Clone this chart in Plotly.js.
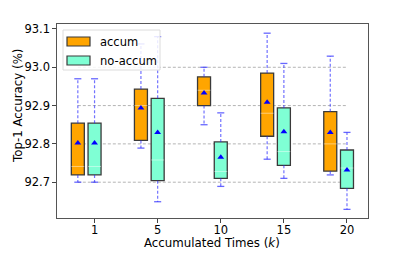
<!DOCTYPE html>
<html>
<head>
<meta charset="utf-8">
<script src="https://cdn.plot.ly/plotly-3.0.1.min.js"></script>
<style>html,body{margin:0;padding:0;background:#fff;}#chart{width:409px;height:273px;}</style>
</head>
<body>
<div id="chart"></div>
<script>
// ---- data ----
const categories = ['1', '5', '10', '15', '20'];
const accumQ1   = [92.719, 92.809, 92.900, 92.820, 92.729];
const accumQ3   = [92.854, 92.943, 92.975, 92.985, 92.884];
const accumLow  = [92.700, 92.789, 92.850, 92.760, 92.719];
const accumHigh = [92.970, 93.061, 93.000, 93.089, 93.029];
const accumMean = [92.802, 92.894, 92.933, 92.909, 92.830];
const accumMed  = [92.741, 92.900, 92.940, 92.880, 92.800];
const noQ1   = [92.719, 92.704, 92.710, 92.744, 92.684];
const noQ3   = [92.854, 92.919, 92.805, 92.894, 92.784];
const noLow  = [92.700, 92.649, 92.689, 92.710, 92.629];
const noHigh = [92.970, 93.080, 92.881, 93.010, 92.830];
const noMean = [92.802, 92.830, 92.765, 92.832, 92.732];
const noMed  = [92.741, 92.758, 92.728, 92.780, 92.737];
const gridValues = [92.7, 92.8, 92.9, 93.0];
const yTicks = [92.7, 92.8, 92.9, 93.0, 93.1];
const xTitle = 'Accumulated Times (<i>k</i>)';
const yTitle = 'Top-1 Accuracy (%)';

// ---- layout helpers ----
const OFF = 0.265, BW = 0.206, CAP = 0.056;
const idx = categories.map((c, i) => i);
const xAcc = idx.map(i => i - OFF);
const xNo = idx.map(i => i);
const FONT = 'DejaVu Sans, sans-serif';

function boxTraces(xs, q1, q3, lo, hi, mean, med, color, name) {
  const wx = [], wy = [], cx = [], cy = [], mx = [], my = [];
  xs.forEach((x, i) => {
    wx.push(x, x, null, x, x, null);
    wy.push(q3[i], hi[i], null, q1[i], lo[i], null);
    cx.push(x - CAP, x + CAP, null, x - CAP, x + CAP, null);
    cy.push(hi[i], hi[i], null, lo[i], lo[i], null);
    mx.push(x - BW / 2, x + BW / 2, null);
    my.push(med[i], med[i], null);
  });
  return [
    {type: 'scatter', mode: 'lines', x: wx, y: wy, hoverinfo: 'skip', showlegend: false,
     line: {color: 'rgba(40,40,255,0.65)', width: 1.2, dash: '3px,2px'}},
    {type: 'scatter', mode: 'lines', x: cx, y: cy, hoverinfo: 'skip', showlegend: false,
     line: {color: 'rgba(40,40,255,0.7)', width: 1.3}},
    {type: 'bar', x: xs, base: q1, y: q3.map((v, i) => v - q1[i]), width: BW, name: name,
     showlegend: false, marker: {color: color, line: {color: '#3a3a3a', width: 1.3}}},
    {type: 'scatter', mode: 'lines', x: mx, y: my, hoverinfo: 'skip', showlegend: false,
     line: {color: 'rgba(255,255,255,0.45)', width: 1}},
    {type: 'scatter', mode: 'markers', x: xs, y: mean, showlegend: false,
     marker: {symbol: 'triangle-up', size: 6, color: '#0000ff'}}
  ];
}

const data = [].concat(
  boxTraces(xAcc, accumQ1, accumQ3, accumLow, accumHigh, accumMean, accumMed, '#FFA500', 'accum'),
  boxTraces(xNo, noQ1, noQ3, noLow, noHigh, noMean, noMed, '#7FFFD4', 'no-accum')
);

// plot area in pixels: x 57.5..368, y 24.5..218
const L = 57, R = 41, T = 24, B = 55;
const PW = 409 - L - R, PH = 273 - T - B;
const px = p => (p - L) / PW;
const py = p => (273 - B - p) / PH;

const shapes = gridValues.map(v => ({
  type: 'line', xref: 'x', yref: 'y', x0: -OFF, x1: 4, y0: v, y1: v, layer: 'below',
  line: {color: '#b4b4b4', width: 1, dash: '3px,2px'}
}));
// legend box
shapes.push({type: 'rect', xref: 'paper', yref: 'paper', x0: px(63), x1: px(160), y0: py(70), y1: py(30),
  fillcolor: 'rgba(255,255,255,0.85)', line: {color: '#dcdcdc', width: 1}});
shapes.push({type: 'rect', xref: 'paper', yref: 'paper', x0: px(67), x1: px(90), y0: py(46), y1: py(37),
  fillcolor: '#FFA500', line: {color: '#3a3a3a', width: 1.2}});
shapes.push({type: 'rect', xref: 'paper', yref: 'paper', x0: px(67), x1: px(90), y0: py(65), y1: py(56),
  fillcolor: '#7FFFD4', line: {color: '#3a3a3a', width: 1.2}});

const annotations = [
  {xref: 'paper', yref: 'paper', x: px(98), y: py(41.5), text: 'accum', showarrow: false,
   xanchor: 'left', yanchor: 'middle', font: {family: FONT, size: 11.5, color: '#000'}},
  {xref: 'paper', yref: 'paper', x: px(98), y: py(60.5), text: 'no-accum', showarrow: false,
   xanchor: 'left', yanchor: 'middle', font: {family: FONT, size: 11.5, color: '#000'}},
  {xref: 'paper', yref: 'paper', x: px(212), y: py(243), text: xTitle, showarrow: false,
   xanchor: 'center', yanchor: 'middle', font: {family: FONT, size: 11.8, color: '#000'}},
  {xref: 'paper', yref: 'paper', x: px(18), y: py(106), text: yTitle, showarrow: false, textangle: -90,
   xanchor: 'center', yanchor: 'middle', font: {family: FONT, size: 11.8, color: '#000'}}
];

const layout = {
  width: 409, height: 273,
  margin: {l: L, r: R, t: T, b: B},
  paper_bgcolor: '#fff', plot_bgcolor: '#fff',
  barmode: 'overlay', showlegend: false,
  font: {family: FONT, size: 11.5, color: '#000'},
  xaxis: {
    range: [-0.595, 4.333], tickmode: 'array', tickvals: idx, ticktext: categories,
    ticks: 'outside', ticklen: 3.5, tickcolor: '#444', showgrid: false, zeroline: false,
    showline: true, linecolor: '#555', linewidth: 1.2, mirror: true, ticklabelstandoff: -3,
    tickfont: {family: FONT, size: 11.5}
  },
  yaxis: {
    range: [92.6065, 93.113], tickmode: 'array', tickvals: yTicks,
    ticktext: yTicks.map(v => v.toFixed(1)),
    ticks: 'outside', ticklen: 3.5, tickcolor: '#444', showgrid: false, zeroline: false,
    showline: true, linecolor: '#555', linewidth: 1.2, mirror: true,
    tickfont: {family: FONT, size: 11.5}
  },
  shapes: shapes,
  annotations: annotations
};

Plotly.newPlot('chart', data, layout, {displayModeBar: false, staticPlot: true});
</script>
</body>
</html>
